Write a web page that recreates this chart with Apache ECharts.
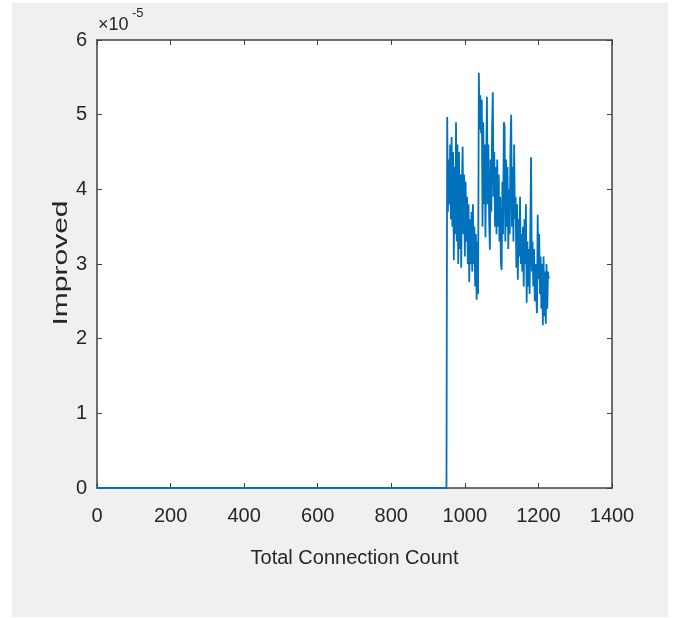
<!DOCTYPE html>
<html>
<head>
<meta charset="utf-8">
<script src="https://cdn.jsdelivr.net/npm/echarts@6/dist/echarts.min.js"></script>
<style>
    html, body { margin: 0; padding: 0; background: #fff; }
    #my_echart { width: 675px; height: 618px; }
</style>
</head>
<body>
<div id="my_echart"></div>
<script>
// x axis ticks (Total Connection Count) and y axis ticks (x 1e-5)
var xTickMin = 0, xTickMax = 1400, xTickStep = 200;
var yTickMin = 0, yTickMax = 6, yTickStep = 1;

// flat part: nothing improved until ~950 connections
var idleCount = [0, 950];
var idleValue = [0, 0];

// noisy part, values in units of 1e-5
var activeCount = [
    952, 954, 956, 958, 960, 962, 964, 966, 968, 970,
    972, 974, 976, 978, 980, 982, 984, 986, 988, 990,
    992, 994, 996, 998, 1000, 1002, 1004, 1006, 1008, 1010,
    1012, 1014, 1016, 1018, 1020, 1022, 1024, 1026, 1028, 1030,
    1032, 1034, 1036, 1038, 1040, 1042, 1044, 1046, 1048, 1050,
    1052, 1054, 1056, 1058, 1060, 1062, 1064, 1066, 1068, 1070,
    1072, 1074, 1076, 1078, 1080, 1082, 1084, 1086, 1088, 1090,
    1092, 1094, 1096, 1098, 1100, 1102, 1104, 1106, 1108, 1110,
    1112, 1114, 1116, 1118, 1120, 1122, 1124, 1126, 1128, 1130,
    1132, 1134, 1136, 1138, 1140, 1142, 1144, 1146, 1148, 1150,
    1152, 1154, 1156, 1158, 1160, 1162, 1164, 1166, 1168, 1170,
    1172, 1174, 1176, 1178, 1180, 1182, 1184, 1186, 1188, 1190,
    1192, 1194, 1196, 1198, 1200, 1202, 1204, 1206, 1208, 1210,
    1212, 1214, 1216, 1218, 1220, 1222, 1224, 1226, 1228
];
var improvedE5 = [
    4.97, 3.7, 4.4, 3.8, 4.6, 3.6, 4.7, 3.5, 4.5, 3.05,
    4.3, 3.4, 4.9, 3.3, 4.6, 3.0, 4.5, 3.2, 4.2, 2.95,
    4.0, 4.57, 3.4, 4.2, 3.1, 4.1, 3.3, 3.9, 3.0, 3.8,
    2.76, 3.6, 3.0, 3.7, 2.9, 3.8, 3.0, 3.5, 2.7, 3.4,
    2.52, 3.3, 2.6, 5.56, 4.8, 5.26, 4.75, 5.2, 3.5, 4.9,
    3.8, 4.6, 3.36, 4.4, 5.24, 3.8, 4.6, 3.6, 3.19, 4.4,
    3.7, 4.8, 5.3, 3.9, 4.5, 3.5, 4.3, 3.4, 4.4, 3.5,
    4.2, 3.3, 3.9, 3.0, 2.92, 4.1, 3.4, 4.9, 4.85, 3.3,
    4.4, 3.5, 4.3, 3.2, 4.0, 3.4, 4.6, 5.0, 3.5, 4.3,
    3.3, 4.6, 3.6, 3.9, 2.95, 3.8, 2.79, 3.6, 3.1, 3.9,
    3.0, 3.4, 2.9, 3.5, 2.7, 3.6, 3.0, 3.8, 2.48, 3.3,
    2.7, 3.2, 2.6, 3.5, 4.43, 2.9, 3.3, 2.7, 3.2, 2.5,
    3.0, 2.6, 2.34, 3.66, 2.8, 3.4, 2.6, 3.1, 2.4, 3.0,
    2.18, 3.1, 2.3, 2.9, 2.2, 3.0, 2.4, 2.9, 2.8
];

var lineData = [];
for (var i = 0; i < idleCount.length; i++) {
    lineData.push([idleCount[i], idleValue[i]]);
}
for (var j = 0; j < activeCount.length; j++) {
    lineData.push([activeCount[j], improvedE5[j]]);
}

var AXIS_COLOR = '#404040';
var TEXT_COLOR = '#262626';
var LABEL_FONT = '"Liberation Sans", Arial, sans-serif';

var mychart = echarts.init(document.getElementById('my_echart'));

mychart.setOption({
    animation: false,
    backgroundColor: '#fff',
    grid: {
        left: 97,
        right: 63,
        top: 40,
        bottom: 130,
        show: true,
        backgroundColor: '#fff',
        borderWidth: 0
    },
    graphic: [
        // grey figure panel
        {
            type: 'rect',
            z: -10,
            silent: true,
            shape: { x: 12, y: 3, width: 656, height: 614 },
            style: { fill: '#f0f0f0' }
        },
        // y axis name
        {
            type: 'text',
            x: 61,
            y: 263,
            rotation: Math.PI / 2,
            scaleX: 1.5,
            style: {
                text: 'Improved',
                font: '20px ' + LABEL_FONT,
                fill: TEXT_COLOR,
                align: 'center',
                verticalAlign: 'middle'
            }
        },
        // exponent label
        {
            type: 'text',
            x: 98,
            y: 34,
            style: {
                text: '\u00d710',
                font: '18px ' + LABEL_FONT,
                fill: TEXT_COLOR,
                align: 'left',
                verticalAlign: 'bottom'
            }
        },
        {
            type: 'text',
            x: 132,
            y: 20,
            style: {
                text: '-5',
                font: '13px ' + LABEL_FONT,
                fill: TEXT_COLOR,
                align: 'left',
                verticalAlign: 'bottom'
            }
        }
    ],
    xAxis: [
        {
            type: 'value',
            min: xTickMin,
            max: xTickMax,
            interval: xTickStep,
            name: 'Total Connection Count',
            nameLocation: 'middle',
            nameGap: 60,
            nameTextStyle: {
                fontFamily: LABEL_FONT,
                fontSize: 20,
                color: TEXT_COLOR
            },
            axisLine: { show: true, onZero: false, lineStyle: { color: AXIS_COLOR, width: 1.5 } },
            axisTick: { show: true, inside: true, length: 5, lineStyle: { color: AXIS_COLOR } },
            axisLabel: {
                margin: 18,
                fontFamily: LABEL_FONT,
                fontSize: 20,
                color: TEXT_COLOR,
                formatter: function (v) { return String(v); }
            },
            splitLine: { show: false }
        },
        {
            type: 'value',
            position: 'top',
            min: xTickMin,
            max: xTickMax,
            interval: xTickStep,
            axisLine: { show: true, onZero: false, lineStyle: { color: AXIS_COLOR, width: 1.5 } },
            axisTick: { show: true, inside: true, length: 5, lineStyle: { color: AXIS_COLOR } },
            axisLabel: { show: false },
            splitLine: { show: false }
        }
    ],
    yAxis: [
        {
            type: 'value',
            min: yTickMin,
            max: yTickMax,
            interval: yTickStep,
            axisLine: { show: true, onZero: false, lineStyle: { color: AXIS_COLOR, width: 1.5 } },
            axisTick: { show: true, inside: true, length: 5, lineStyle: { color: AXIS_COLOR } },
            axisLabel: {
                margin: 10,
                fontFamily: LABEL_FONT,
                fontSize: 20,
                color: TEXT_COLOR
            },
            splitLine: { show: false }
        },
        {
            type: 'value',
            position: 'right',
            min: yTickMin,
            max: yTickMax,
            interval: yTickStep,
            axisLine: { show: true, onZero: false, lineStyle: { color: AXIS_COLOR, width: 1.5 } },
            axisTick: { show: true, inside: true, length: 5, lineStyle: { color: AXIS_COLOR } },
            axisLabel: { show: false },
            splitLine: { show: false }
        }
    ],
    series: [
        {
            name: 'Improved',
            type: 'line',
            xAxisIndex: 0,
            yAxisIndex: 0,
            data: lineData,
            showSymbol: false,
            symbol: 'none',
            lineStyle: { color: '#0072BD', width: 1.8 },
            z: 3
        }
    ]
});
</script>
</body>
</html>
